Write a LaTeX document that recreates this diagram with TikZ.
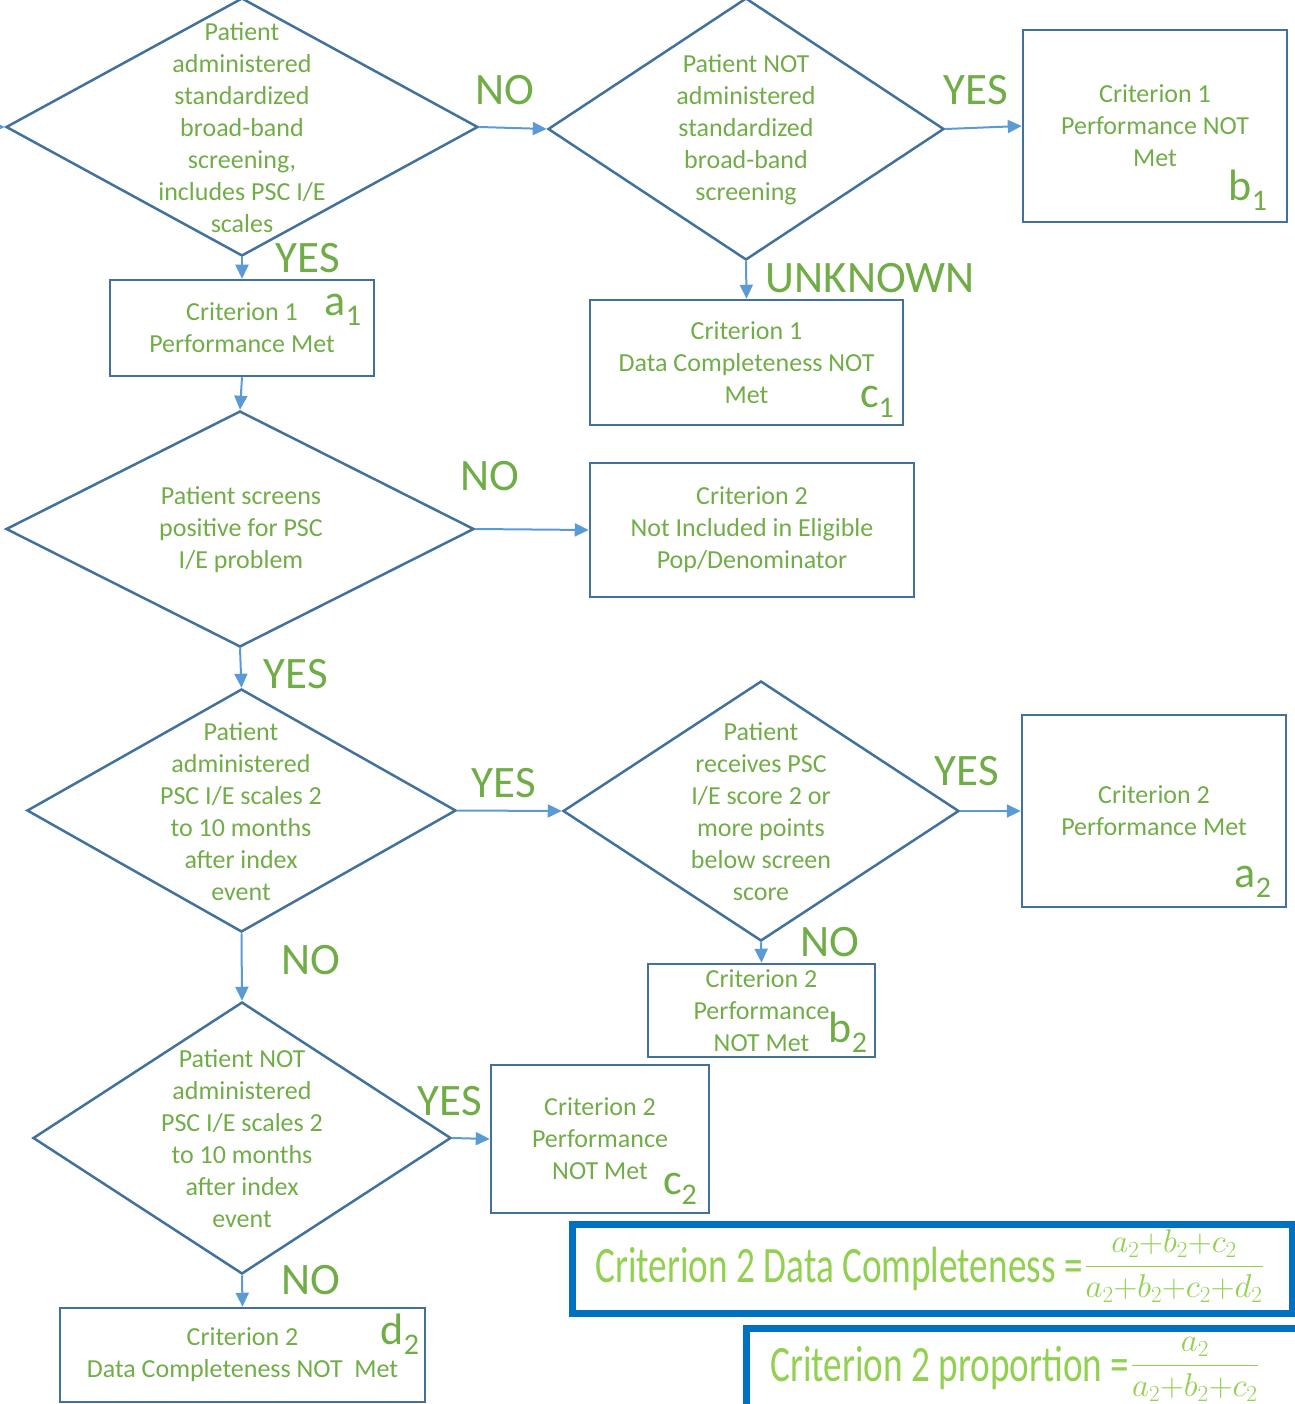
\RequirePackage{fix-cm}
\documentclass[tikz,border=0pt]{standalone}
\usepackage{fontspec}
\setmainfont{Carlito}
\usepackage{xcolor}
\usetikzlibrary{shapes.geometric,arrows.meta}

\definecolor{txtgreen}{HTML}{70AD47}
\definecolor{frmgreen}{HTML}{92D050}
\definecolor{edgeblue}{HTML}{41719C}
\definecolor{arrowblue}{HTML}{5B9BD5}
\definecolor{fbblue}{HTML}{0070C0}

\newcommand{\tagname}[2]{{\fontsize{44}{44}\selectfont #1}\raisebox{-10pt}{\fontsize{30}{30}\selectfont #2}}
\newcommand{\ratio}[2]{{\fontsize{33}{40}\selectfont$\displaystyle\frac{#1}{#2}$}}
\newcommand{\measure}[1]{\raisebox{-8pt}{\scalebox{0.73}[1]{\fontsize{51}{60}\selectfont #1}}}

\begin{document}
\begin{tikzpicture}[x=1pt,y=-1pt,
  arrow/.style={draw=arrowblue,line width=2pt,-{Triangle[width=13pt,length=14pt]}},
  dia node/.style={diamond,draw=edgeblue,line width=2.5pt,inner sep=0pt},
  box node/.style={rectangle,draw=edgeblue,line width=2.5pt,inner sep=0pt,align=center,text=txtgreen,font=\fontsize{26}{32}\selectfont},
  dia text/.style={align=center,text=txtgreen,inner sep=0pt,font=\fontsize{26}{32}\selectfont},
  answer/.style={text=txtgreen,inner sep=0pt,font=\fontsize{45}{45}\selectfont},
  tag/.style={text=txtgreen,inner sep=0pt},
  formula box/.style={rectangle,draw=fbblue,line width=7pt,inner sep=0pt},
  formula/.style={text=frmgreen,inner sep=0pt}]
\useasboundingbox (0,0) rectangle (1294,1404);

% decisions
\node[dia node,minimum width=472pt,minimum height=258pt] (q1) at (242,127) {};
\node[dia node,minimum width=396pt,minimum height=262pt] (q2) at (746,129) {};
\node[dia node,minimum width=468pt,minimum height=236pt] (q3) at (240,529) {};
\node[dia node,minimum width=429pt,minimum height=243pt] (q4) at (241.5,810.5) {};
\node[dia node,minimum width=396pt,minimum height=260pt] (q5) at (761,811) {};
\node[dia node,minimum width=418pt,minimum height=272pt] (q6) at (242,1138) {};

\node[dia text] (q1t) at (242,128) {Patient\\administered\\standardized\\broad-band\\screening,\\includes PSC I/E\\scales};
\node[dia text] (q2t) at (746,130) {Patient NOT\\administered\\standardized\\broad-band\\screening};
\node[dia text] (q3t) at (241,530) {Patient screens\\positive for PSC\\I/E problem};
\node[dia text] (q4t) at (241,812) {Patient\\administered\\PSC I/E scales 2\\to 10 months\\after index\\event};
\node[dia text] (q5t) at (761,812) {Patient\\receives PSC\\I/E score 2 or\\more points\\below screen\\score};
\node[dia text] (q6t) at (242,1139) {Patient NOT\\administered\\PSC I/E scales 2\\to 10 months\\after index\\event};

% outcomes
\node[box node,minimum width=264pt,minimum height=192pt] (b1) at (1155,126) {Criterion 1\\Performance NOT\\Met};
\node[box node,minimum width=264pt,minimum height=96pt] (a1) at (242,328) {Criterion 1\\Performance Met};
\node[box node,minimum width=313pt,minimum height=125pt] (c1) at (746.5,362.5) {Criterion 1\\Data Completeness NOT\\Met};
\node[box node,minimum width=324pt,minimum height=134pt] (n2) at (752,530) {Criterion 2\\Not Included in Eligible\\Pop/Denominator};
\node[box node,minimum width=264pt,minimum height=192pt] (a2) at (1154,811) {Criterion 2\\Performance Met};
\node[box node,minimum width=227pt,minimum height=93pt] (b2) at (761.5,1010.5) {Criterion 2\\Performance\\NOT Met};
\node[box node,minimum width=218pt,minimum height=148pt] (c2) at (600,1139) {Criterion 2\\Performance\\NOT Met};
\node[box node,minimum width=365pt,minimum height=94pt] (d2) at (242.5,1355) {Criterion 2\\Data Completeness NOT\ \ Met};

\node[tag] (ta1) at (343,310) {\tagname{a}{1}};
\node[tag] (tb1) at (1248,190) {\tagname{b}{1}};
\node[tag] (tc1) at (877,402) {\tagname{c}{1}};
\node[tag] (ta2) at (1253,882) {\tagname{a}{2}};
\node[tag] (tb2) at (848,1032) {\tagname{b}{2}};
\node[tag] (tc2) at (680,1189) {\tagname{c}{2}};
\node[tag] (td2) at (400,1334) {\tagname{d}{2}};

% answers
\node[answer] (l1) at (505,90) {NO};
\node[answer] (l2) at (976,90) {YES};
\node[answer] (l3) at (308,258) {YES};
\node[answer] (l4) at (870,278) {UNKNOWN};
\node[answer] (l5) at (490,476) {NO};
\node[answer] (l6) at (296,674) {YES};
\node[answer] (l7) at (504,783) {YES};
\node[answer] (l8) at (967,771) {YES};
\node[answer] (l9) at (830,942) {NO};
\node[answer] (l10) at (311,960) {NO};
\node[answer] (l11) at (450,1101) {YES};
\node[answer] (l12) at (311,1280) {NO};

\coordinate (in) at (-20,127);
\draw[arrow] (in) -- (q1.west);
\draw[arrow] (q1.east) -- (q2.west);
\draw[arrow] (q2.east) -- (b1.west);
\draw[arrow] (q1.south) -- (a1.north);
\draw[arrow] (q2.south) -- (c1.north);
\draw[arrow] (a1.south) -- (q3.north);
\draw[arrow] (q3.east) -- (n2.west);
\draw[arrow] (q3.south) -- (q4.north);
\draw[arrow] (q4.east) -- (q5.west);
\draw[arrow] (q5.east) -- (a2.west);
\draw[arrow] (q5.south) -- (b2.north);
\draw[arrow] (q4.south) -- (q6.north);
\draw[arrow] (q6.east) -- (c2.west);
\draw[arrow] (q6.south) -- (d2.north);

% measures
\node[formula box,minimum width=720pt,minimum height=89pt] (f1) at (932,1268.5) {};
\node[formula] (f1t) at (929.5,1266) {\measure{Criterion 2 Data Completeness =}\,\ratio{a_2{+}b_2{+}c_2}{a_2{+}b_2{+}c_2{+}d_2}};
\node[formula box,minimum width=584pt,minimum height=92pt] (f2) at (1038,1374) {};
\node[formula] (f2t) at (1014.5,1369) {\measure{Criterion 2 proportion =}\,\ratio{a_2}{a_2{+}b_2{+}c_2}};
\end{tikzpicture}
\end{document}
